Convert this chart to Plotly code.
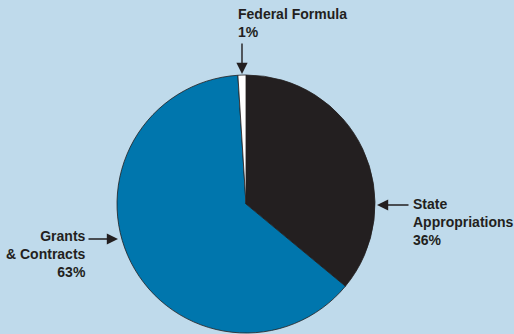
import plotly.graph_objects as go

categories = ["State Appropriations", "Grants & Contracts", "Federal Formula"]
values = [36, 63, 1]
label_texts = ["<b>State<br>Appropriations<br>36%</b>",
               "<b>Grants<br>& Contracts<br>63%</b>",
               "<b>Federal Formula<br>1%</b>"]
colors = ["#231f20", "#0076ad", "#ffffff"]

W, H = 514, 334
BG = "#bfdaeb"

def px(x):
    return x / W

def py(y):
    return 1 - y / H

fig = go.Figure(go.Pie(
    labels=categories, values=values, sort=False, direction="clockwise",
    rotation=0, textinfo="none", hoverinfo="label+percent",
    marker=dict(colors=colors, line=dict(color="#231f20", width=0.8)),
    domain=dict(x=[px(117), px(375)], y=[py(333), py(75)]),
    showlegend=False,
))

font = dict(family="Liberation Sans, Arial, sans-serif", size=14, color="#231f20")

annotations = [
    # text labels
    dict(x=px(236), y=py(23), text=label_texts[2], xanchor="left", yanchor="middle",
         align="left", showarrow=False),
    dict(x=px(411), y=py(222), text=label_texts[0], xanchor="left", yanchor="middle",
         align="left", showarrow=False),
    dict(x=px(88), y=py(254), text=label_texts[1], xanchor="right", yanchor="middle",
         align="right", showarrow=False),
    # arrows
    dict(x=px(242), y=py(74), ax=0, ay=-32, text="", showarrow=True),
    dict(x=px(377), y=py(205), ax=33, ay=0, text="", showarrow=True),
    dict(x=px(118), y=py(239), ax=-31, ay=0, text="", showarrow=True),
]
for a in annotations:
    a.update(xref="paper", yref="paper", font=font)
    if a.get("showarrow"):
        a.update(arrowhead=2, arrowsize=1.6, arrowwidth=1.4, arrowcolor="#231f20",
                 standoff=0, startstandoff=0)

fig.update_layout(
    width=W, height=H, margin=dict(l=0, r=0, t=0, b=0),
    paper_bgcolor=BG, plot_bgcolor=BG, annotations=annotations,
)

fig.write_html("out.html", config={"displayModeBar": False})
with open("out.html", "r", encoding="utf-8") as f:
    html = f.read()
html = html.replace("<head>", "<head><style>html,body{margin:0;padding:0;overflow:hidden;}</style>", 1)
with open("out.html", "w", encoding="utf-8") as f:
    f.write(html)
